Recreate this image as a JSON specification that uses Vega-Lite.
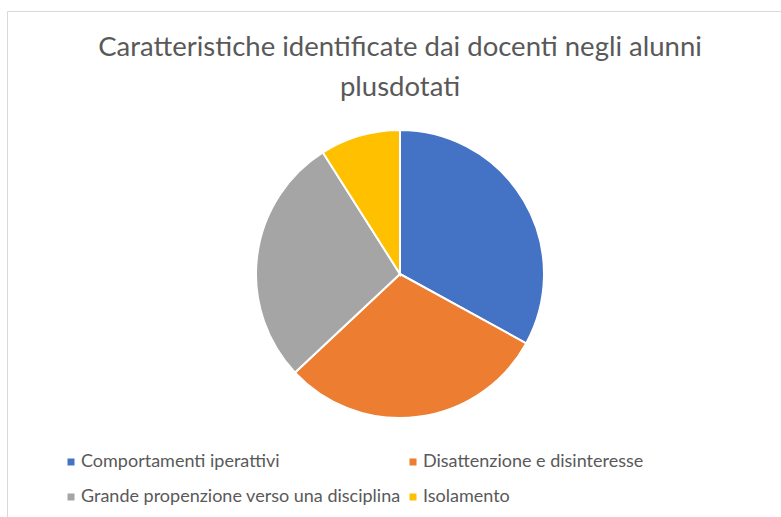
{
  "$schema": "https://vega.github.io/schema/vega-lite/v6.json",
  "autosize": "none",
  "padding": {"left": 7, "top": 11, "right": 0, "bottom": 0},
  "width": 786,
  "height": 526,
  "background": "white",
  "view": {"stroke": "#d9d9d9", "strokeWidth": 1, "fill": "white"},
  "title": {
    "text": ["Caratteristiche identificate dai docenti negli alunni", "plusdotati"],
    "font": "Lato",
    "fontSize": 27.5,
    "fontWeight": "normal",
    "color": "#595959",
    "anchor": "middle",
    "frame": "group",
    "lineHeight": 40,
    "offset": -90
  },
  "data": {
    "values": [
      {"categoria": "Comportamenti iperattivi", "valore": 33, "ordine": 1},
      {"categoria": "Disattenzione e disinteresse", "valore": 30, "ordine": 2},
      {"categoria": "Grande propenzione verso una disciplina", "valore": 28, "ordine": 3},
      {"categoria": "Isolamento", "valore": 9, "ordine": 4}
    ]
  },
  "mark": {"type": "arc", "radius": 144, "stroke": "white", "strokeWidth": 2},
  "encoding": {
    "theta": {"field": "valore", "type": "quantitative", "stack": true},
    "order": {"field": "ordine", "type": "quantitative"},
    "color": {
      "field": "categoria",
      "type": "nominal",
      "sort": null,
      "scale": {
        "domain": ["Comportamenti iperattivi", "Disattenzione e disinteresse", "Grande propenzione verso una disciplina", "Isolamento"],
        "range": ["#4472C4", "#ED7D31", "#A5A5A5", "#FFC000"]
      },
      "legend": {
        "title": null,
        "orient": "none",
        "legendX": 55,
        "legendY": 442,
        "direction": "horizontal",
        "columns": 2,
        "columnPadding": 3,
        "rowPadding": 17,
        "padding": 0,
        "symbolType": "square",
        "symbolSize": 49,
        "symbolStrokeWidth": 0,
        "labelFont": "Lato",
        "labelFontSize": 18,
        "labelColor": "#595959",
        "labelOffset": 1,
        "labelLimit": 400,
        "gridAlign": "each"
      }
    }
  }
}
